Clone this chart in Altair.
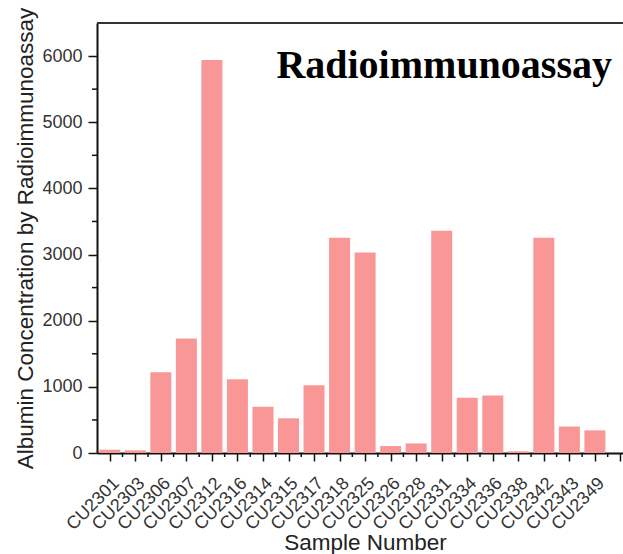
import altair as alt
import pandas as pd

samples = ["CU2301", "CU2303", "CU2306", "CU2307", "CU2312", "CU2316", "CU2314",
           "CU2315", "CU2317", "CU2318", "CU2325", "CU2326", "CU2328", "CU2331",
           "CU2334", "CU2336", "CU2338", "CU2342", "CU2343", "CU2349"]
albumin = [50, 40, 1220, 1730, 5940, 1115, 700, 525, 1025, 3255, 3030, 105, 145,
           3360, 835, 870, 25, 3255, 400, 342]
positions = list(range(1, len(samples) + 1))
x_major = list(range(1, 22))
x_minor = [p + 0.5 for p in range(1, 21)]
y_major = [0, 1000, 2000, 3000, 4000, 5000, 6000]
y_minor = [500, 1500, 2500, 3500, 4500, 5500]
panel_title = "Radioimmunoassay"

W, H = 526, 430
FONT = "Liberation Sans"
BAR = "#F99797"
XT = "Sample Number"
YT = "Albumin Concentration by Radioimmunoassay"

df = pd.DataFrame({"pos": positions, "sample": samples, "value": albumin})
names_js = "[" + ",".join("'" + s + "'" for s in samples) + "]"

xscale = alt.Scale(domain=[0.5, 21.1], nice=False, zero=False, padding=0)
yscale = alt.Scale(domain=[0, 6500], nice=False, padding=0)

xaxis = alt.Axis(values=x_major, labelExpr=names_js + "[datum.value-1] || ''",
                 labelAngle=-45, labelAlign="right", labelBaseline="top",
                 labelOverlap=False, labelBound=False, labelPadding=13,
                 tickSize=8, grid=False,
                 titleX=268, titleY=96, titleBaseline="alphabetic", titleAlign="center")
yaxis = alt.Axis(values=y_major, format="d", tickSize=9, labelPadding=6, grid=False,
                 titleX=-65, titleY=H / 2, titleBaseline="alphabetic", titleAlign="center")

bars = alt.Chart(df).mark_bar(size=21, color=BAR).encode(
    x=alt.X("pos:Q", scale=xscale, title=XT, axis=xaxis),
    y=alt.Y("value:Q", scale=yscale, title=YT, axis=yaxis),
)

ymin = alt.Chart(pd.DataFrame({"v": y_minor})).mark_rule(color="#111", strokeWidth=1.5).encode(
    y=alt.Y("v:Q", scale=yscale, title=YT, axis=yaxis),
    x=alt.value(-5), x2=alt.value(0),
)

xmin = alt.Chart(pd.DataFrame({"v": x_minor})).mark_rule(color="#111", strokeWidth=1.5).encode(
    x=alt.X("v:Q", scale=xscale, title=XT, axis=xaxis),
    y=alt.value(H), y2=alt.value(H + 4),
)

topline = alt.Chart(pd.DataFrame({"a": [0]})).mark_rule(color="#333", strokeWidth=2).encode(
    x=alt.value(0), x2=alt.value(W), y=alt.value(0)
)

label = alt.Chart(pd.DataFrame({"t": [panel_title]})).mark_text(
    font="Liberation Serif", fontWeight="bold", fontSize=40, align="right",
    baseline="alphabetic", color="#000"
).encode(text="t:N", x=alt.value(515), y=alt.value(55))

chart = alt.layer(bars, ymin, xmin, topline, label).properties(
    width=W, height=H,
    padding={"left": 97, "top": 23, "right": 0, "bottom": 101},
    autosize=alt.AutoSizeParams(type="none"),
).configure_view(stroke=None).configure_axis(
    domainColor="#111", domainWidth=2, tickColor="#111", tickWidth=1.5,
    labelFont=FONT, labelFontSize=18, labelColor="#333",
    titleFont=FONT, titleFontSize=22.5, titleColor="#222", titleFontWeight="normal",
)

chart.save("out.html", embed_options={"renderer": "svg", "actions": False})
